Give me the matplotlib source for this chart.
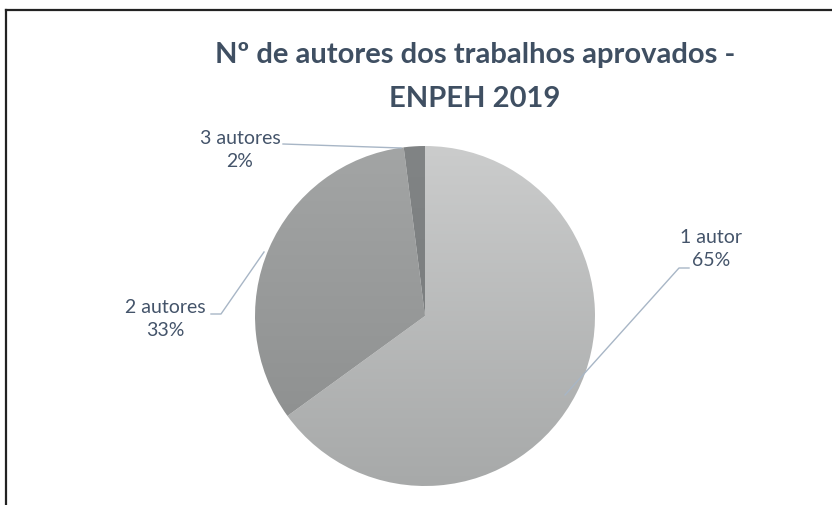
import numpy as np
from matplotlib import pyplot as plt
from matplotlib.colors import to_rgb

categorias = ["1 autor", "2 autores", "3 autores"]
percentuais = [65, 33, 2]
titulo = "Nº de autores dos trabalhos aprovados -\nENPEH 2019"

# cores do gradiente (topo, base) de cada fatia
gradientes = [("#cbcccc", "#a7a9a9"), ("#a3a5a5", "#8a8c8c"), ("#818485", "#76797a")]

W, H = 832, 505
fig = plt.figure(figsize=(W / 100, H / 100), dpi=100)
ax = fig.add_axes([0, 0, 1, 1])

cx, cy, r = 425, H - 316, 170
wedges, _ = ax.pie(percentuais, startangle=90, counterclock=False,
                   center=(cx, cy), radius=r,
                   wedgeprops=dict(linewidth=0, edgecolor="none"))

grad = np.linspace(0, 1, 256).reshape(-1, 1)
for w, (c_top, c_bot) in zip(wedges, gradientes):
    w.set_facecolor("none")
    top = np.array(to_rgb(c_top))
    bot = np.array(to_rgb(c_bot))
    img = top[None, None, :] * (1 - grad[:, :, None]) + bot[None, None, :] * grad[:, :, None]
    im = ax.imshow(img, extent=(cx - r, cx + r, cy - r, cy + r), origin="upper",
                   aspect="auto", zorder=1, interpolation="bilinear")
    im.set_clip_path(w)

ax.set_xlim(0, W)
ax.set_ylim(0, H)
ax.set_aspect("auto")
ax.axis("off")

# moldura (só topo e esquerda visíveis)
fig.add_artist(plt.Line2D([6 / W, 1], [1 - 10 / H, 1 - 10 / H], color="#222222", lw=1.6))
fig.add_artist(plt.Line2D([6 / W, 6 / W], [0, 1 - 10 / H], color="#222222", lw=1.6))

cor_texto = "#44546a"
cor_linha = "#a8b6c6"

fig.text(475 / W, 1 - 77 / H, titulo, ha="center", va="center", fontsize=21,
         fontweight="bold", color="#3f4f62", family="Lato", linespacing=1.85)

rotulos = [
    (711, 249, [(565, 395), (679, 268), (689, 268)]),
    (165, 319, [(264, 252), (221, 314), (211, 314)]),
    (240, 150, [(401, 148), (283, 144)]),
]
for (nome, pct), (tx, ty, pts) in zip(zip(categorias, percentuais), rotulos):
    xs = [p[0] for p in pts]
    ys = [H - p[1] for p in pts]
    ax.plot(xs, ys, color=cor_linha, lw=1, zorder=3)
    ax.text(tx, H - ty, "%s\n%d%%" % (nome, pct), ha="center", va="center",
            fontsize=14, color=cor_texto, family="Lato", linespacing=1.4)

fig.savefig("out.png", dpi=100, facecolor="white")
